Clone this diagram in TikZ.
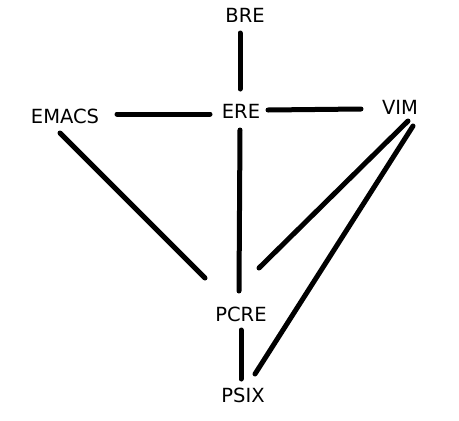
\documentclass[tikz,border=0pt]{standalone}
\usepackage{fontspec}
\setmainfont{DejaVu Sans}
\usepackage{tikz}

\begin{document}
\begin{tikzpicture}[
    x=1pt, y=-1pt,
    lang/.style={inner sep=0pt, font=\fontsize{19.5}{22}\selectfont},
    link/.style={line width=5pt, line cap=round, draw=black}
]
    \useasboundingbox (0,0) rectangle (459,421);

    % Regex flavours
    \node[lang] (BRE) at (245,15) {BRE};
    \node[lang] (ERE) at (241,111) {ERE};
    \node[lang] (EMACS) at (65,116) {EMACS};
    \node[lang] (VIM) at (400,107) {VIM};
    \node[lang] (PCRE) at (241,314) {PCRE};
    \node[lang] (PSIX) at (243,395) {PSIX};

    % Connections
    \draw[link] ([shift={(-5,18)}]BRE.center) -- ([shift={(-1,-22)}]ERE.center);
    \draw[link] ([shift={(52,-2)}]EMACS.center) -- ([shift={(-31,3)}]ERE.center);
    \draw[link] ([shift={(27,-1)}]ERE.center) -- ([shift={(-39,2)}]VIM.center);
    \draw[link] ([shift={(-1,19)}]ERE.center) -- ([shift={(-2,-23)}]PCRE.center);
    \draw[link] ([shift={(-5,17)}]EMACS.center) -- ([shift={(-36,-36)}]PCRE.center);
    \draw[link] ([shift={(8,14)}]VIM.center) -- ([shift={(18,-46)}]PCRE.center);
    \draw[link] ([shift={(13,19)}]VIM.center) -- ([shift={(12,-21)}]PSIX.center);
    \draw[link] ([shift={(0,16)}]PCRE.center) -- ([shift={(-2,-16)}]PSIX.center);
\end{tikzpicture}
\end{document}
